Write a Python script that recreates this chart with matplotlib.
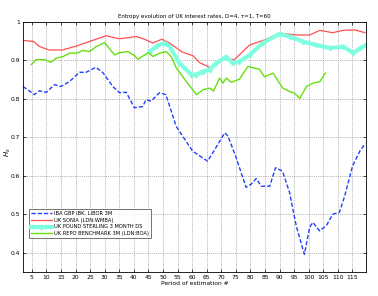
import matplotlib
matplotlib.use("Agg")
import matplotlib.pyplot as plt
import numpy as np

# IBA GBP IBK. LIBOR 3M
libor_x = [2, 5.9, 7.6, 10, 12.8, 15, 17.9, 21.4, 23.6, 27, 29.4, 32.8, 35.1, 37.4, 40.2, 43, 44.2, 45.9,
           48.8, 51, 54.5, 55.6, 60.2, 65.3, 67.1, 71.2, 72.3, 75.1, 78.5, 80.2, 82, 83.7, 86.6, 88.6,
           91, 93.4, 95.7, 98.5, 100.3, 101.4, 103.7, 106, 108.2, 110.5, 112.3, 115, 117.5, 119.4]
libor_y = [0.832, 0.811, 0.821, 0.817, 0.837, 0.832, 0.845, 0.869, 0.869, 0.882, 0.868, 0.832, 0.816, 0.817,
           0.777, 0.780, 0.798, 0.794, 0.816, 0.811, 0.729, 0.716, 0.664, 0.638, 0.660, 0.712, 0.703,
           0.647, 0.570, 0.578, 0.593, 0.573, 0.573, 0.621, 0.612, 0.557, 0.470, 0.396, 0.466, 0.479,
           0.457, 0.470, 0.500, 0.505, 0.547, 0.625, 0.664, 0.684]

# UK SONIA
sonia_x = [2, 5.6, 7.6, 11, 15.5, 20.6, 24.7, 30.5, 35.1, 40.8, 43.6, 46.5, 49.6, 52.3, 56.5, 60.3,
           62.6, 66.6, 70.6, 74.5, 79.7, 84.8, 90, 95.7, 100.3, 103.8, 108.2, 111.8, 115.9, 119.3]
sonia_y = [0.952, 0.949, 0.936, 0.927, 0.927, 0.938, 0.949, 0.964, 0.956, 0.962, 0.955, 0.945, 0.955,
           0.945, 0.922, 0.912, 0.894, 0.880, 0.904, 0.902, 0.940, 0.953, 0.971, 0.966, 0.966, 0.978,
           0.972, 0.978, 0.979, 0.972]

# UK POUND STERLING 3 MONTH DS
pound_x = [45.4, 48, 50.5, 52.3, 55.6, 59.7, 61.4, 63.6, 66, 68.2, 71.7, 73.9, 76.2, 79.7, 84.2, 90,
           93.4, 97.9, 102.6, 107.2, 111.8, 115.3, 117.7, 119.6]
pound_y = [0.923, 0.938, 0.945, 0.936, 0.893, 0.863, 0.863, 0.871, 0.876, 0.893, 0.909, 0.893, 0.897,
           0.914, 0.945, 0.969, 0.962, 0.949, 0.940, 0.932, 0.936, 0.919, 0.932, 0.940]

# UK REPO BENCHMARK 3M
repo_x = [4.8, 6.5, 9.4, 11.6, 13.4, 15.7, 18, 20.8, 22.4, 24.8, 27.1, 30, 33.4, 35.1, 38, 40.3, 41.4,
          44.9, 46.6, 48.9, 51.1, 52.8, 54.6, 58, 61.5, 63.8, 66.1, 67.3, 69.4, 70.6, 71.7, 73.4, 76.2,
          79.1, 83.1, 84.8, 87.7, 91.1, 93.4, 95.1, 96.9, 99.2, 101.5, 103.8, 105.7]
repo_y = [0.889, 0.902, 0.902, 0.895, 0.906, 0.910, 0.919, 0.919, 0.926, 0.923, 0.936, 0.946, 0.914,
          0.920, 0.923, 0.912, 0.903, 0.920, 0.910, 0.919, 0.923, 0.910, 0.880, 0.845, 0.811, 0.824,
          0.828, 0.820, 0.854, 0.841, 0.854, 0.843, 0.851, 0.884, 0.877, 0.857, 0.867, 0.828, 0.819,
          0.815, 0.801, 0.832, 0.841, 0.845, 0.867]

labels = ["IBA GBP IBK. LIBOR 3M", "UK SONIA (LDN:WMBA)",
          "UK POUND STERLING 3 MONTH DS", "UK REPO BENCHMARK 3M (LDN:BOA)"]
xticks = list(range(5, 120, 5))
yticks = [0.4, 0.5, 0.6, 0.7, 0.8, 0.9, 1.0]
yticklabels = ["0.4", "0.5", "0.6", "0.7", "0.8", "0.9", "1"]

plt.rcParams['font.family'] = ['DejaVu Sans']
fig = plt.figure(figsize=(3.78, 2.96), dpi=100)
ax = fig.add_axes([0.061, 0.081, 0.907, 0.845])

ax.plot(libor_x, libor_y, color='#2040ff', linestyle=(0, (3, 1.5)), linewidth=1.0, label=labels[0])
ax.plot(sonia_x, sonia_y, color='#ff5050', linestyle='-', linewidth=0.9, label=labels[1])
ax.plot(pound_x, pound_y, color='#7fffe0', linestyle='-', linewidth=3.0, marker='d',
        markersize=2.5, markevery=1, label=labels[2])
ax.plot(repo_x, repo_y, color='#66e010', linestyle='-', linewidth=1.0, label=labels[3])

ax.set_xlim(2, 119.6)
ax.set_ylim(0.35, 1.0)
ax.set_xticks(xticks)
ax.set_yticks(yticks)
ax.set_yticklabels(yticklabels)
ax.tick_params(direction='in', top=True, right=True, labelsize=4.3, length=2, width=0.5, pad=2)
ax.grid(True, linestyle=':', color='#777777', linewidth=0.5)
for s in ax.spines.values():
    s.set_linewidth(0.6)

ax.set_title("Entropy evolution of UK interest rates, D=4, τ=1, T=60", fontsize=4.0, pad=3)
ax.set_xlabel("Period of estimation #", fontsize=4.3, labelpad=1)
ax.set_ylabel(r"$H_s$", fontsize=5)
ax.yaxis.set_label_coords(-0.028, 0.48)

leg = ax.legend(loc='lower left', bbox_to_anchor=(0.01, 0.125), fontsize=3.7, frameon=True,
                fancybox=False, edgecolor='#333333', borderpad=0.4, handlelength=4.0,
                labelspacing=0.35, handletextpad=0.5)
leg.get_frame().set_linewidth(0.6)

fig.savefig("out.png", dpi=100)
